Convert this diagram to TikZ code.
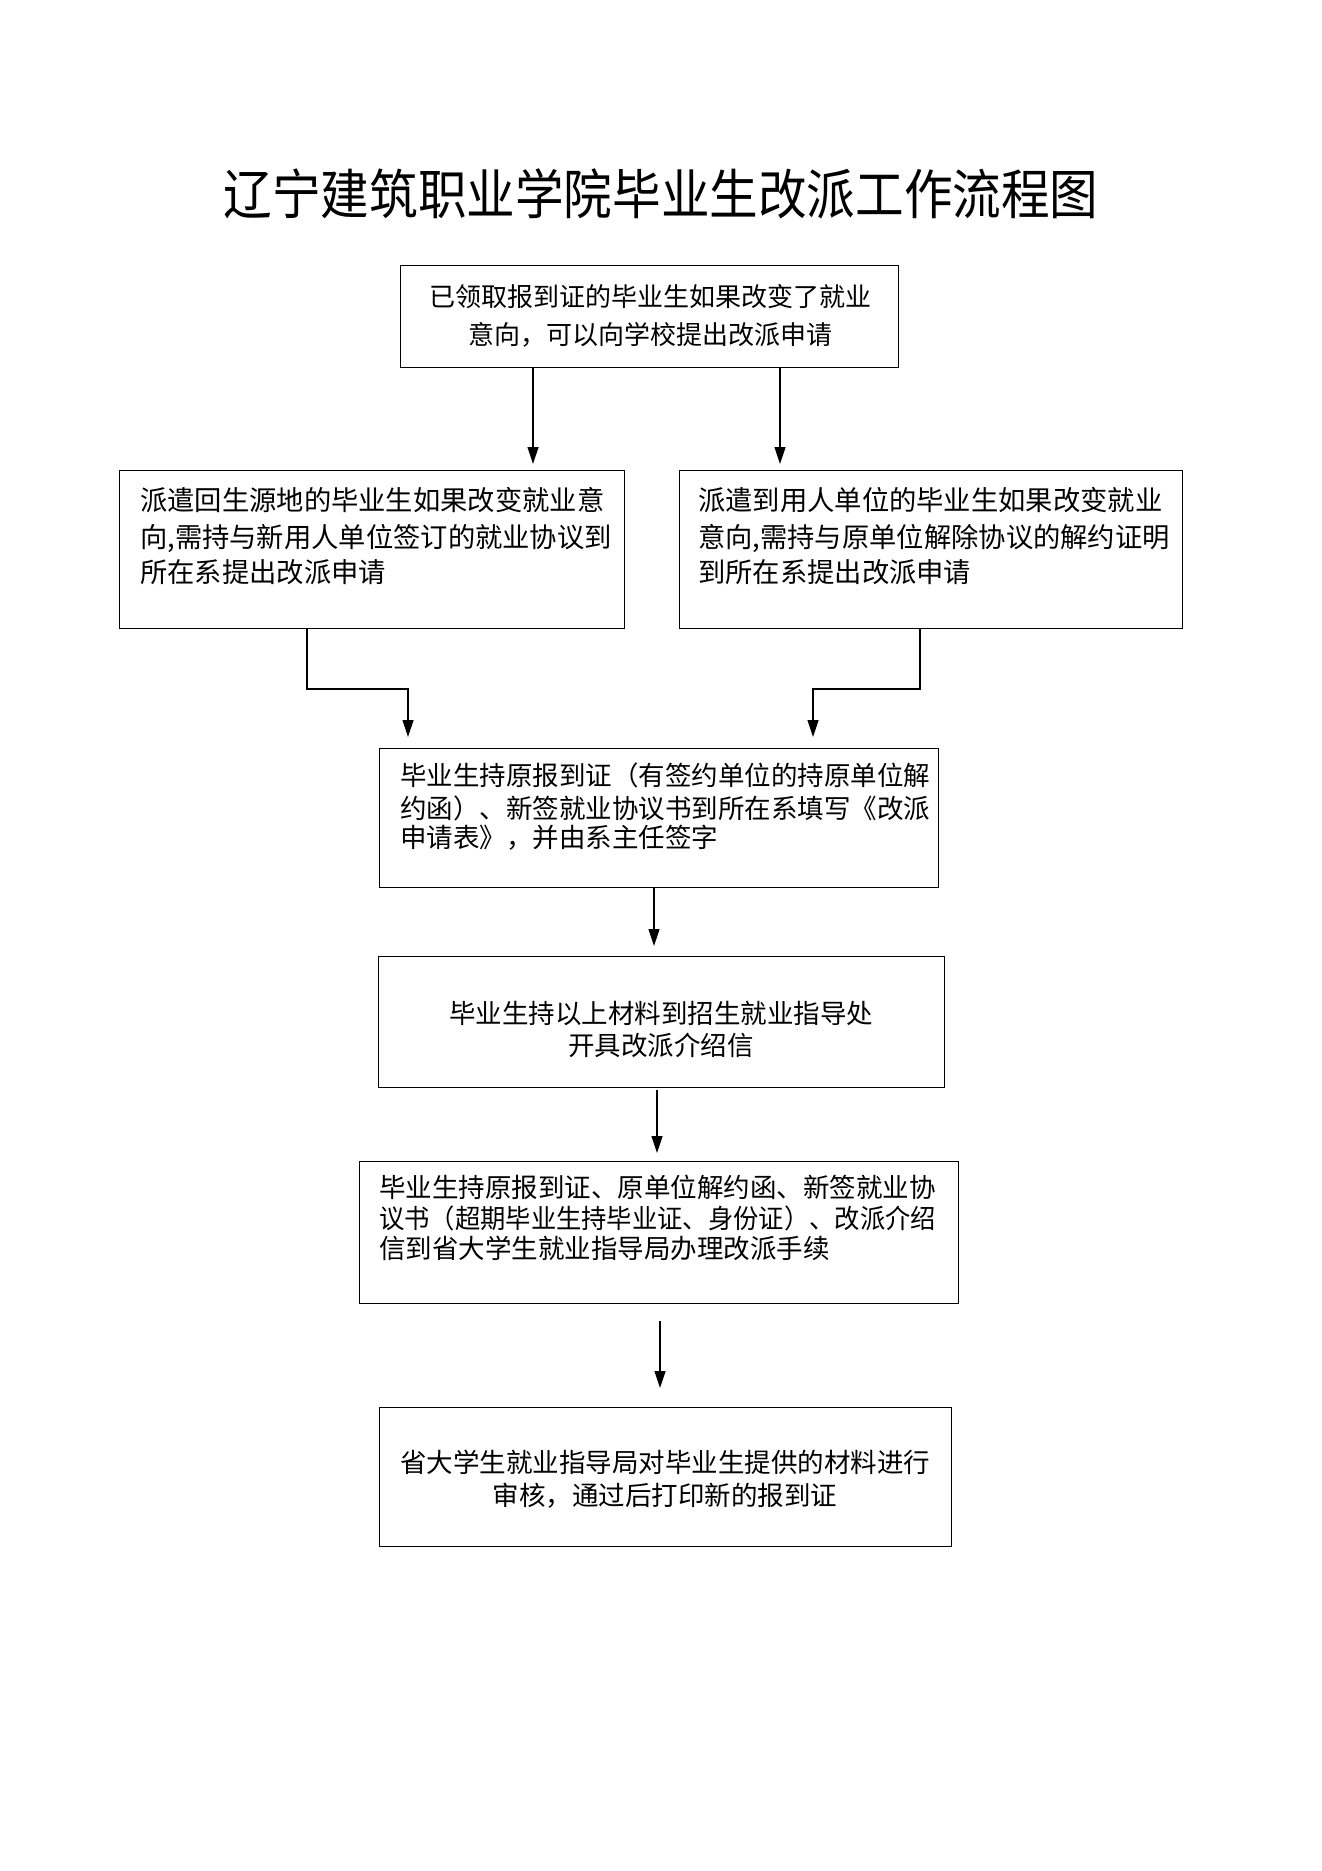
\documentclass[tikz,border=0pt]{standalone}
\usepackage{fontspec}
\setmainfont{Noto Sans CJK SC}
\usetikzlibrary{arrows.meta}
\begin{document}
\begin{tikzpicture}[x=1pt,y=-1pt,
  box/.style={draw,line width=1.4pt,inner sep=0pt,anchor=north west},
  arr/.style={line width=1.2pt,-{Triangle[length=17pt,width=11pt]}},
  ln/.style={inner sep=0pt},
  fa/.style={font=\fontsize{26}{30}\selectfont},
  fb/.style={font=\fontsize{27.3}{32}\selectfont},
  fc/.style={font=\fontsize{26.5}{32}\selectfont}]
\useasboundingbox[fill=white] (0,0) rectangle (1322,1871);

\node[ln,anchor=base,font=\fontsize{54}{60}\selectfont] (title) at (661,214) {\scalebox{0.9}[1]{辽宁建筑职业学院毕业生改派工作流程图}};

% boxes
\node[box,minimum width=498pt,minimum height=102pt] (b1) at (400,265) {};
\node[box,minimum width=505pt,minimum height=158pt] (b2l) at (119,470) {};
\node[box,minimum width=503pt,minimum height=158pt] (b2r) at (679,470) {};
\node[box,minimum width=559pt,minimum height=139pt] (b3) at (379,748) {};
\node[box,minimum width=566pt,minimum height=131pt] (b4) at (378,956) {};
\node[box,minimum width=599pt,minimum height=142pt] (b5) at (359,1161) {};
\node[box,minimum width=572pt,minimum height=139pt] (b6) at (379,1407) {};

% texts
\node[ln,fa,anchor=base] (t1a) at (650,306) {已领取报到证的毕业生如果改变了就业};
\node[ln,fa,anchor=base] (t1b) at (650,344) {意向，可以向学校提出改派申请};

\node[ln,fb,anchor=base west] (t2la) at (140,510) {派遣回生源地的毕业生如果改变就业意};
\node[ln,fb,anchor=base west] (t2lb) at (140,547) {向,需持与新用人单位签订的就业协议到};
\node[ln,fb,anchor=base west] (t2lc) at (140,582) {所在系提出改派申请};

\node[ln,fb,anchor=base west] (t2ra) at (698,510) {派遣到用人单位的毕业生如果改变就业};
\node[ln,fb,anchor=base west] (t2rb) at (698,547) {意向,需持与原单位解除协议的解约证明};
\node[ln,fb,anchor=base west] (t2rc) at (698,582) {到所在系提出改派申请};

\node[ln,fc,anchor=base west] (t3a) at (400,785) {毕业生持原报到证（有签约单位的持原单位解};
\node[ln,fc,anchor=base west] (t3b) at (400,818) {约函）、新签就业协议书到所在系填写《改派};
\node[ln,fc,anchor=base west] (t3c) at (400,847) {申请表》，并由系主任签字};

\node[ln,fc,anchor=base] (t4a) at (661,1023) {毕业生持以上材料到招生就业指导处};
\node[ln,fc,anchor=base] (t4b) at (661,1055) {开具改派介绍信};

\node[ln,fc,anchor=base west] (t5a) at (379,1197) {毕业生持原报到证、原单位解约函、新签就业协};
\node[ln,fc,anchor=base west] (t5b) at (379,1228) {\scalebox{0.955}[1]{议书（超期毕业生持毕业证、身份证）、改派介绍}};
\node[ln,fc,anchor=base west] (t5c) at (379,1258) {信到省大学生就业指导局办理改派手续};

\node[ln,fc,anchor=base] (t6a) at (665,1472) {省大学生就业指导局对毕业生提供的材料进行};
\node[ln,fc,anchor=base] (t6b) at (665,1505) {审核，通过后打印新的报到证};

% connectors
\coordinate (c1) at (533,0);
\coordinate (c2) at (780,0);
\draw[arr,shorten >=6pt] (b1.south -| c1) -- (b2l.north -| c1);
\draw[arr,shorten >=6pt] (b1.south -| c2) -- (b2r.north -| c2);

\coordinate (e1) at (307,689);
\coordinate (e2) at (408,689);
\draw[arr,shorten >=11pt] (b2l.south -| e1) -- (e1) -- (e2) -- (b3.north -| e2);
\coordinate (e3) at (920,689);
\coordinate (e4) at (813,689);
\draw[arr,shorten >=11pt] (b2r.south -| e3) -- (e3) -- (e4) -- (b3.north -| e4);

\coordinate (c3) at (654,0);
\coordinate (c4) at (657,0);
\coordinate (c5) at (660,0);
\draw[arr,shorten >=10pt] (b3.south -| c3) -- (b4.north -| c3);
\draw[arr,shorten <=2pt,shorten >=8pt] (b4.south -| c4) -- (b5.north -| c4);
\draw[arr,shorten <=17pt,shorten >=19pt] (b5.south -| c5) -- (b6.north -| c5);
\end{tikzpicture}
\end{document}
